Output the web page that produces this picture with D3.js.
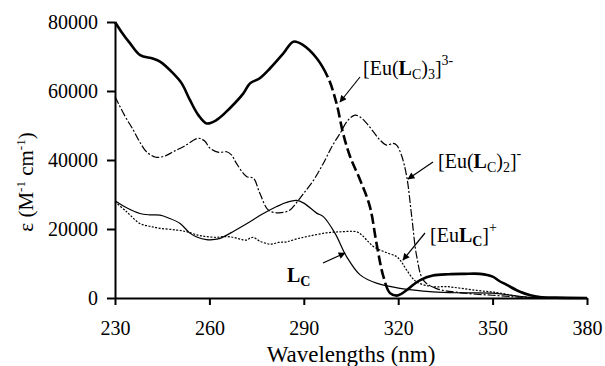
<!DOCTYPE html>
<html>
<head>
<meta charset="utf-8">
<script src="https://cdn.jsdelivr.net/npm/d3@7"></script>
<style>
    body { margin: 0; background: #fff; }
    svg text { font-family: "Liberation Serif", "Times New Roman", Times, "DejaVu Serif", serif; fill: #000; }
</style>
</head>
<body>
<div id="chart"></div>
<script>
const FONT = '"Liberation Serif", "Times New Roman", Times, "DejaVu Serif", serif';

// x ticks and y ticks
const xTicks = [230, 260, 290, 320, 350, 380];
const yTicks = [0, 20000, 40000, 60000, 80000];

// [Eu(Lc)3]3-  (thick)
const eu3Nm = [230, 232, 234.8, 238, 242, 244.3, 248.5, 251.2, 253.8, 256.5, 259.1, 262.3, 266.5, 270.8, 272.9, 276, 279.3, 283.5, 286.7, 289.8, 294.1, 297.8,
    300.4, 302.5, 304.7, 307.9, 311, 313.1, 315.3, 317.4, 319.5, 321, 322.7, 325, 327, 331, 336, 341, 346, 350, 352, 354.5, 358.7, 362, 365, 370, 380];
const eu3Eps = [80000, 77200, 73800, 70400, 69400, 68500, 65100, 62200, 57400, 53000, 50600, 51600, 55000, 59300, 62200, 63700, 66600, 70900, 74300, 73300, 69500, 63700,
    56400, 47700, 41000, 34200, 26500, 15900, 6200, 1400, 700, 1200, 2300, 4000, 5200, 6500, 6900, 7000, 7000, 6200, 5000, 3800, 1800, 800, 300, 100, 0];

// [Eu(Lc)2]-  (dash-dot)
const eu2Nm = [230, 233, 235.8, 238, 240, 243, 246, 248.5, 252, 256.5, 258.5, 260.2, 263, 265.5, 267, 268.6, 271.8, 274, 276, 278.7, 281.4, 283.5, 285.6, 288, 290,
    293, 296.2, 299, 301.5, 304, 306.3, 308, 310, 312.1, 314.2, 316.3, 318.4, 319.5, 321, 322.7, 324.3, 325.9, 328, 332, 340, 350, 360, 370, 380];
const eu2Eps = [58400, 53000, 48700, 45000, 42400, 40800, 41200, 42400, 44000, 46300, 45500, 43400, 42200, 42400, 41500, 39000, 35200, 34700, 30400, 25500, 24700, 24800, 25500, 28000, 30400,
    34000, 39000, 44000, 47700, 51500, 53000, 52400, 50600, 48200, 45800, 44300, 44800, 44300, 41500, 35200, 23600, 12000, 5200, 2800, 1500, 800, 200, 0, 0];

// [EuLc]+  (dotted)
const eu1Nm = [230, 233.7, 237.9, 241, 244.3, 249.6, 252.8, 256, 259, 262.3, 265, 267.6, 270, 271.8, 273, 274, 276, 279.3, 282, 284.6, 288, 292, 297.3, 302, 306.8,
    308.5, 310, 312, 314.2, 317, 319.5, 321, 322.7, 325.8, 331, 335.4, 340, 345, 349.2, 352, 358.7, 365, 380];
const eu1Eps = [27900, 25000, 21600, 20800, 20200, 19700, 19200, 18300, 17800, 17600, 17800, 17600, 17000, 16800, 17400, 17600, 16500, 15600, 16100, 16300, 17200, 18000, 18900, 19200, 19200,
    18200, 16800, 15000, 13900, 12900, 12000, 10500, 8100, 4700, 3300, 3300, 2800, 2200, 1800, 1500, 400, 100, 0];

// Lc  (thin solid)
const lcNm = [230, 234, 237.9, 241, 244.3, 247, 250.7, 253.8, 256, 259.1, 261, 263.4, 268, 272.9, 277, 281.4, 284.5, 287.7, 290, 294.1, 296.2, 299.9, 303.6, 307.9,
    313.1, 320.6, 331, 340, 350, 356, 362, 370, 380];
const lcEps = [28200, 26000, 24500, 24100, 24000, 23200, 21600, 18800, 17700, 16900, 16900, 17300, 19500, 22100, 24400, 26500, 27700, 28300, 27500, 24600, 23600, 18800, 12000, 6700,
    4300, 2800, 1800, 1500, 1400, 800, 200, 0, 0];

const W = 605, H = 366;
const margin = { top: 22, right: 18, bottom: 68, left: 115 };

const svg = d3.select("#chart").append("svg")
    .attr("width", W)
    .attr("height", H);

const x = d3.scaleLinear().domain([230, 380]).range([margin.left, W - margin.right]);
const y = d3.scaleLinear().domain([0, 80000]).range([H - margin.bottom, margin.top]);

const zip = (a, b) => a.map((v, i) => [v, b[i]]);

const line = d3.line()
    .x(d => x(d[0]))
    .y(d => y(d[1]))
    .curve(d3.curveCatmullRom.alpha(0.5));

// arrow head
svg.append("defs").append("marker")
    .attr("id", "arrow")
    .attr("viewBox", "0 0 10 10")
    .attr("refX", 9)
    .attr("refY", 5)
    .attr("markerWidth", 9)
    .attr("markerHeight", 7)
    .attr("markerUnits", "userSpaceOnUse")
    .attr("orient", "auto")
    .append("path")
    .attr("d", "M0,0L10,5L0,10Z")
    .attr("fill", "#000");

// curves
const g = svg.append("g").attr("fill", "none").attr("stroke", "#000");

g.append("path")
    .attr("d", line(zip(lcNm, lcEps)))
    .attr("stroke-width", 1.2);

g.append("path")
    .attr("d", line(zip(eu1Nm, eu1Eps)))
    .attr("stroke-width", 1.2)
    .attr("stroke-dasharray", "2,1.5");

g.append("path")
    .attr("d", line(zip(eu2Nm, eu2Eps)))
    .attr("stroke-width", 1.2)
    .attr("stroke-dasharray", "8,2,2,2");

// thick curve: solid, dashed in the steep part, then solid
const eu3Path = g.append("path")
    .attr("d", line(zip(eu3Nm, eu3Eps)))
    .attr("stroke-width", 2.6);
const pathEl = eu3Path.node();
const total = pathEl.getTotalLength();

function lengthAtX(px) {
    let lo = 0, hi = total;
    for (let k = 0; k < 40; k++) {
        const m = (lo + hi) / 2;
        if (pathEl.getPointAtLength(m).x < px) lo = m; else hi = m;
    }
    return lo;
}
const l1 = lengthAtX(x(297.6));
const l2 = lengthAtX(x(316.5));
// dash, then (gap, dash) pairs, then the rest solid
const dashes = [l1];
let acc = 0;
while (acc + 14 < l2 - l1) { dashes.push(4, 10); acc += 14; }
dashes.push(4, total);
eu3Path.attr("stroke-dasharray", dashes.join(","));

// axes
const yAxis = svg.append("g")
    .attr("transform", `translate(${margin.left},0)`)
    .call(d3.axisLeft(y).tickValues(yTicks).tickFormat(d3.format("d")).tickSize(8).tickSizeOuter(0).tickPadding(9));

const xAxis = svg.append("g")
    .attr("transform", `translate(0,${H - margin.bottom})`)
    .call(d3.axisBottom(x).tickValues(xTicks).tickSize(7).tickSizeOuter(0).tickPadding(16));

[xAxis, yAxis].forEach(a => {
    a.attr("font-family", FONT);
    a.select(".domain").attr("stroke-width", 2);
    a.selectAll(".tick line").attr("stroke-width", 2);
    a.selectAll("text").attr("font-size", 20);
});

// axis titles
svg.append("text")
    .attr("x", (x(230) + x(380)) / 2)
    .attr("y", 362)
    .attr("text-anchor", "middle")
    .attr("font-size", 23)
    .text("Wavelengths (nm)");

const yt = svg.append("text")
    .attr("transform", "translate(33,182) rotate(-90)")
    .attr("text-anchor", "middle")
    .attr("font-size", 21);
yt.append("tspan").text("ε (M");
yt.append("tspan").attr("font-size", 13).attr("dy", -8).text("-1");
yt.append("tspan").attr("dy", 8).text(" cm");
yt.append("tspan").attr("font-size", 13).attr("dy", -8).text("-1");
yt.append("tspan").attr("dy", 8).text(")");

// labels
function label(px, py, parts) {
    const t = svg.append("text").attr("x", px).attr("y", py).attr("font-size", 20);
    parts.forEach(p => {
        const s = t.append("tspan").text(p.t);
        if (p.b) s.attr("font-weight", "bold");
        if (p.sub) s.attr("font-size", 14).attr("dy", 4);
        if (p.sup) s.attr("font-size", 14).attr("dy", -10);
        if (p.back) s.attr("dy", p.back);
    });
}

label(363, 75, [{ t: "[Eu(" }, { t: "L", b: true }, { t: "C", sub: true }, { t: ")", back: -4 }, { t: "3", sub: true }, { t: "]", back: -4 }, { t: "3-", sup: true }]);
label(438, 168, [{ t: "[Eu(" }, { t: "L", b: true }, { t: "C", sub: true }, { t: ")", back: -4 }, { t: "2", sub: true }, { t: "]", back: -4 }, { t: "-", sup: true }]);
label(430, 242, [{ t: "[Eu" }, { t: "L", b: true }, { t: "C", sub: true, b: true }, { t: "]", back: -4 }, { t: "+", sup: true }]);
label(287, 282, [{ t: "L", b: true }, { t: "C", sub: true, b: true }]);

// arrows
const arrows = [
    [360, 77, 340, 102],
    [433, 162, 408, 179],
    [425, 233, 403, 260],
    [323, 263, 345, 253]
];
svg.selectAll(".arrow")
    .data(arrows)
    .enter()
    .append("line")
    .attr("class", "arrow")
    .attr("x1", d => d[0]).attr("y1", d => d[1])
    .attr("x2", d => d[2]).attr("y2", d => d[3])
    .attr("stroke", "#000")
    .attr("stroke-width", 1.2)
    .attr("marker-end", "url(#arrow)");
</script>
</body>
</html>
